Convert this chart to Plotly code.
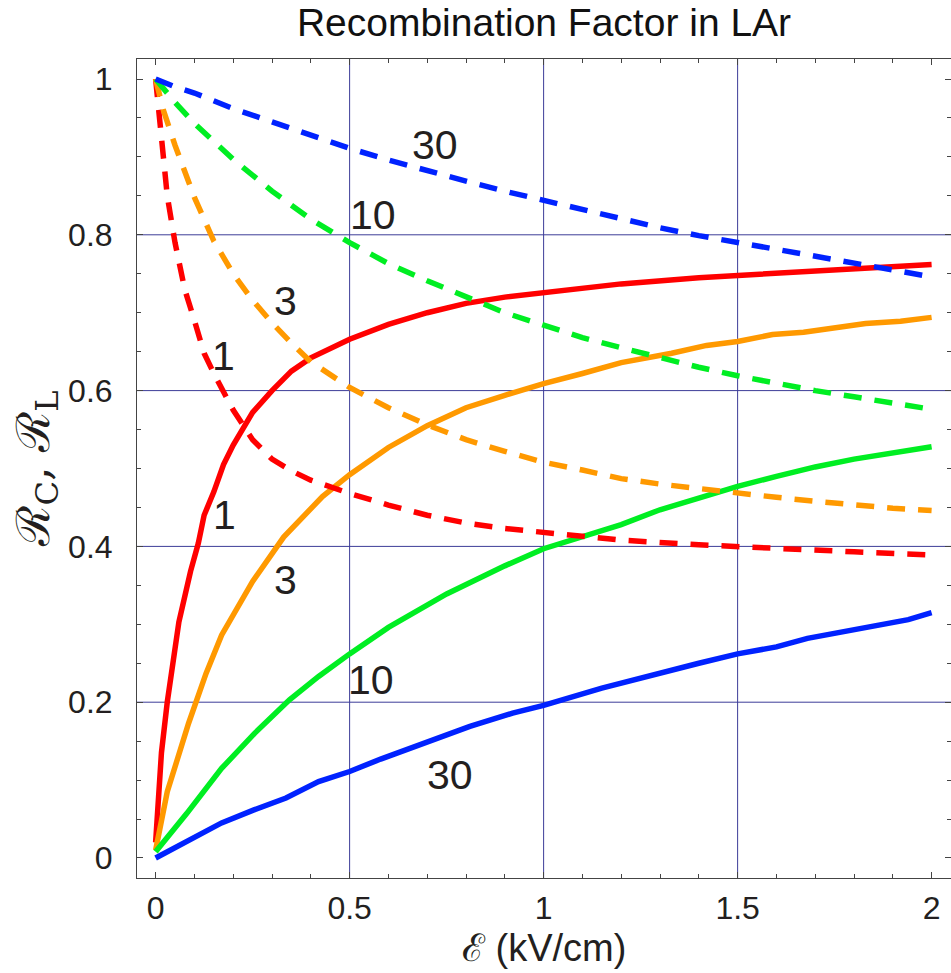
import plotly.graph_objects as go

# ---------------- data ----------------
# Solid curves: R_C (collected charge) for dE/dx = 1, 3, 10, 30
x_c1 = [0, 0.015, 0.03, 0.045, 0.06, 0.09, 0.11, 0.125, 0.15, 0.175, 0.2, 0.25, 0.3, 0.35, 0.4,
        0.5, 0.6, 0.7, 0.8, 0.9, 1.0, 1.2, 1.4, 1.6, 1.8, 2.0]
y_c1 = [0.02, 0.135, 0.20, 0.254, 0.303, 0.368, 0.404, 0.44, 0.47, 0.505, 0.53, 0.572, 0.60, 0.625, 0.642,
        0.666, 0.685, 0.700, 0.712, 0.72, 0.726, 0.737, 0.745, 0.751, 0.757, 0.762]

x_c3 = [0, 0.03, 0.085, 0.13, 0.17, 0.25, 0.33, 0.43, 0.5, 0.6, 0.7, 0.8, 0.9, 1.0, 1.1, 1.2,
        1.33, 1.42, 1.5, 1.59, 1.67, 1.75, 1.83, 1.92, 2.0]
y_c3 = [0.01, 0.085, 0.173, 0.237, 0.286, 0.355, 0.412, 0.464, 0.492, 0.527, 0.555, 0.578, 0.594, 0.609, 0.622, 0.636,
        0.648, 0.658, 0.663, 0.672, 0.675, 0.680, 0.686, 0.689, 0.694]

x_c10 = [0, 0.08, 0.17, 0.255, 0.345, 0.42, 0.5, 0.6, 0.75, 0.9, 1.0, 1.1, 1.2, 1.3, 1.4,
         1.5, 1.6, 1.7, 1.8, 1.9, 2.0]
y_c10 = [0.008, 0.057, 0.115, 0.160, 0.203, 0.233, 0.262, 0.296, 0.339, 0.375, 0.397, 0.413, 0.428, 0.447, 0.462,
         0.477, 0.490, 0.502, 0.512, 0.520, 0.528]

x_c30 = [0, 0.17, 0.255, 0.336, 0.42, 0.5, 0.58, 0.7, 0.81, 0.92, 1.0, 1.15, 1.32, 1.4, 1.5,
         1.6, 1.68, 1.77, 1.85, 1.94, 2.0]
y_c30 = [0.0, 0.045, 0.062, 0.077, 0.098, 0.111, 0.127, 0.149, 0.169, 0.186, 0.196, 0.218, 0.241, 0.250, 0.262,
         0.271, 0.282, 0.290, 0.298, 0.306, 0.315]

# Dashed curves: R_L (luminescence) for dE/dx = 1, 3, 10, 30
x_l1 = [0, 0.01, 0.02, 0.03, 0.05, 0.075, 0.1, 0.125, 0.15, 0.2, 0.25, 0.3, 0.35, 0.4, 0.5,
        0.6, 0.7, 0.8, 0.9, 1.0, 1.2, 1.4, 1.6, 1.8, 2.0]
y_l1 = [1.0, 0.95, 0.90, 0.85, 0.79, 0.73, 0.69, 0.648, 0.622, 0.575, 0.537, 0.512, 0.497, 0.485, 0.468,
        0.453, 0.440, 0.430, 0.423, 0.418, 0.408, 0.402, 0.397, 0.393, 0.389]

x_l3 = [0, 0.02, 0.05, 0.1, 0.15, 0.2, 0.25, 0.3, 0.35, 0.4, 0.5, 0.6, 0.7, 0.8, 0.9, 1.0,
        1.1, 1.2, 1.3, 1.4, 1.5, 1.6, 1.7, 1.8, 1.9, 2.0]
y_l3 = [1.0, 0.96, 0.915, 0.848, 0.792, 0.750, 0.716, 0.687, 0.661, 0.637, 0.604, 0.578, 0.556, 0.537, 0.522, 0.508,
        0.498, 0.487, 0.480, 0.474, 0.468, 0.463, 0.458, 0.453, 0.449, 0.446]

x_l10 = [0, 0.05, 0.1, 0.2, 0.3, 0.4, 0.5, 0.6, 0.7, 0.8, 0.9, 1.0, 1.1, 1.2, 1.3, 1.4,
         1.5, 1.6, 1.7, 1.8, 1.9, 2.0]
y_l10 = [1.0, 0.97, 0.943, 0.897, 0.856, 0.820, 0.790, 0.763, 0.741, 0.720, 0.700, 0.684, 0.668, 0.655, 0.642, 0.630,
         0.619, 0.609, 0.600, 0.592, 0.584, 0.576]

x_l30 = [0, 0.05, 0.1, 0.2, 0.3, 0.4, 0.5, 0.6, 0.7, 0.8, 0.9, 1.0, 1.1, 1.2, 1.3, 1.4,
         1.5, 1.6, 1.7, 1.8, 1.9, 2.0]
y_l30 = [1.0, 0.99, 0.982, 0.962, 0.945, 0.928, 0.911, 0.896, 0.882, 0.869, 0.856, 0.844, 0.832, 0.820, 0.809, 0.799,
         0.790, 0.781, 0.772, 0.763, 0.755, 0.746]

# Curve labels
label_text = ["30", "10", "3", "1", "1", "3", "10", "30"]
label_x = [0.719, 0.559, 0.334, 0.175, 0.177, 0.336, 0.554, 0.758]
label_y = [0.915, 0.826, 0.715, 0.644, 0.440, 0.357, 0.229, 0.107]

# Axis ticks & grid
x_tickvals = [0, 0.5, 1, 1.5, 2]
x_ticktext = ["0", "0.5", "1", "1.5", "2"]
y_tickvals = [0, 0.2, 0.4, 0.6, 0.8, 1]
y_ticktext = ["0", "0.2", "0.4", "0.6", "0.8", "1"]
grid_x = [0.5, 1, 1.5]
grid_y = [0.2, 0.4, 0.6, 0.8]

RED, ORANGE, GREEN, BLUE = "#ff0000", "#ff9900", "#00ee22", "#0022ff"
DASH = "18px,13px"

series = [
    (x_c1, y_c1, RED, "solid"), (x_c3, y_c3, ORANGE, "solid"),
    (x_c10, y_c10, GREEN, "solid"), (x_c30, y_c30, BLUE, "solid"),
    (x_l1, y_l1, RED, DASH), (x_l3, y_l3, ORANGE, DASH),
    (x_l10, y_l10, GREEN, DASH), (x_l30, y_l30, BLUE, DASH),
]

fig = go.Figure()
for xs, ys, col, dash in series:
    fig.add_trace(go.Scatter(x=xs, y=ys, mode="lines",
                             line=dict(color=col, width=5.5, dash=dash),
                             hoverinfo="skip"))

GRID = "#3c3c98"
shapes = []
for gx in grid_x:
    shapes.append(dict(type="line", xref="x", yref="paper", x0=gx, x1=gx, y0=0, y1=1,
                       line=dict(color=GRID, width=1), layer="below"))
for gy in grid_y:
    shapes.append(dict(type="line", xref="paper", yref="y", x0=0, x1=1, y0=gy, y1=gy,
                       line=dict(color=GRID, width=1), layer="below"))

annotations = []
for t, lx, ly in zip(label_text, label_x, label_y):
    annotations.append(dict(x=lx, y=ly, xref="x", yref="y", text=t, showarrow=False,
                            font=dict(size=41, color="#231f20"),
                            xanchor="center", yanchor="middle"))
annotations.append(dict(x=0.5, y=-0.1136, xref="paper", yref="paper",
                        text="ℰ (kV/cm)", showarrow=False,
                        font=dict(size=38, color="#231f20"),
                        xanchor="center", yanchor="bottom"))
annotations.append(dict(x=-0.124, y=0.5, xref="paper", yref="paper",
                        text="ℛ<sub>C</sub>, ℛ<sub>L</sub>", showarrow=False, textangle=-90,
                        font=dict(size=46, color="#231f20", family="DejaVu Serif"),
                        xanchor="center", yanchor="middle"))

AX = "#444444"
fig.update_layout(
    width=951, height=973,
    margin=dict(l=137, r=0, t=59, b=95, autoexpand=False),
    paper_bgcolor="white", plot_bgcolor="white",
    showlegend=False,
    font=dict(family="Liberation Sans, Arial, sans-serif", size=32, color="#231f20"),
    title=dict(text="Recombination Factor in LAr", x=0.5, xref="paper", xanchor="center",
               y=1 - 22 / 973, yref="container", yanchor="middle",
               font=dict(size=39, color="#111111")),
    shapes=shapes,
    annotations=annotations,
    xaxis=dict(range=[-0.048, 2.05], tickvals=x_tickvals, ticktext=x_ticktext,
               ticks="inside", ticklen=6, tickcolor=AX, tickwidth=1,
               showline=True, linecolor=AX, linewidth=1, mirror="ticks",
               showgrid=False, zeroline=False, ticklabelstandoff=2, automargin=False,
               minor=dict(dtick=0.1, tick0=0, ticks="inside", ticklen=4, tickcolor=AX, showgrid=False)),
    yaxis=dict(range=[-0.0257, 1.0257], tickvals=y_tickvals, ticktext=y_ticktext,
               ticks="inside", ticklen=6, tickcolor=AX, tickwidth=1,
               showline=True, linecolor=AX, linewidth=1, mirror="ticks",
               showgrid=False, zeroline=False, ticklabelstandoff=17, automargin=False,
               minor=dict(dtick=0.05, tick0=0, ticks="inside", ticklen=4, tickcolor=AX, showgrid=False)),
)

fig.write_html("out.html", config={"displayModeBar": False},
               post_script="document.body.style.margin='0px';")
